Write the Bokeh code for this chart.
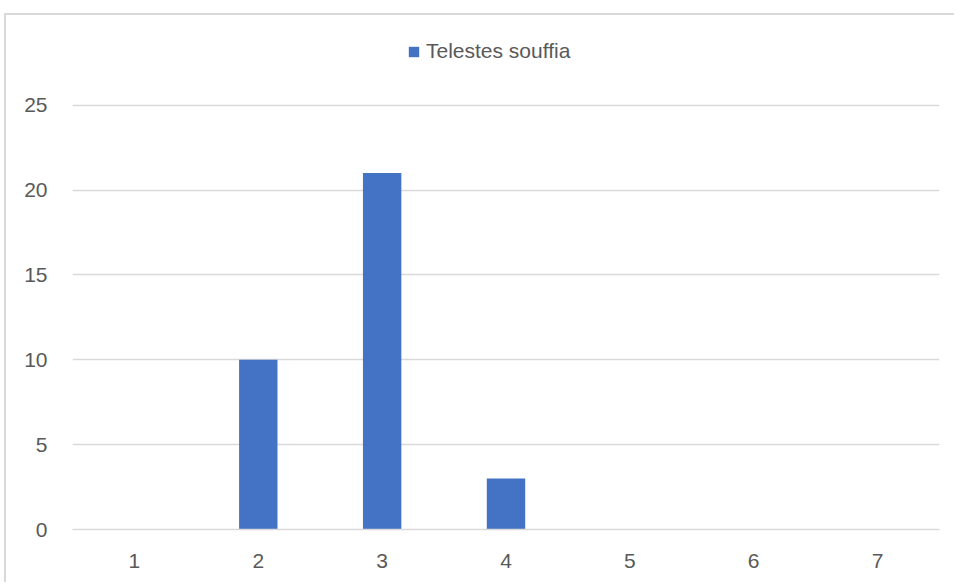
from bokeh.plotting import figure
from bokeh.models import ColumnDataSource, FixedTicker, Legend, LegendItem, Range1d
from bokeh.embed import file_html
from bokeh.resources import INLINE

categories = ["1", "2", "3", "4", "5", "6", "7"]
values = [0, 10, 21, 3, 0, 0, 0]
series_name = "Telestes souffia"
y_ticks = [0, 5, 10, 15, 20, 25]

FONT = "Liberation Sans"
TEXT = "#595959"
GRID = "#d9d9d9"
BAR = "#4472C4"

src = ColumnDataSource(dict(cat=categories, val=values))

p = figure(
    x_range=categories,
    y_range=Range1d(0, 29.4),
    width=950, height=569,
    output_backend="svg", toolbar_location=None,
    min_border_left=66, min_border_right=17,
    min_border_top=15, min_border_bottom=55,
)
p.styles = {"margin-left": "4px", "margin-top": "13px",
            "border-top": "2px solid #d9d9d9", "border-left": "2px solid #d9d9d9"}
p.outline_line_color = None
p.background_fill_color = "white"
p.border_fill_color = "white"

r = p.vbar(x="cat", top="val", width=0.31, source=src, fill_color=BAR, line_color=None)

p.xgrid.grid_line_color = None
p.ygrid.grid_line_color = GRID
p.ygrid.grid_line_width = 1.5
p.yaxis.ticker = FixedTicker(ticks=y_ticks)

for ax in (p.xaxis, p.yaxis):
    ax.axis_line_color = None
    ax.major_tick_line_color = None
    ax.minor_tick_line_color = None
    ax.major_label_text_font = FONT
    ax.major_label_text_font_size = "21px"
    ax.major_label_text_color = TEXT
p.xaxis.axis_line_color = GRID
p.xaxis.axis_line_width = 1.5
p.yaxis.major_label_standoff = 19
p.xaxis.major_label_standoff = 18
p.x_range.range_padding = 0

legend = Legend(items=[LegendItem(label=series_name, renderers=[r])],
                location=(335, 466), orientation="horizontal",
                label_text_font=FONT, label_text_font_size="21px", label_text_color=TEXT,
                glyph_width=13, glyph_height=13, label_standoff=6,
                padding=0, margin=0, border_line_color=None, background_fill_alpha=0)
p.add_layout(legend, "center")

open("out.html", "w").write(file_html(p, INLINE))
